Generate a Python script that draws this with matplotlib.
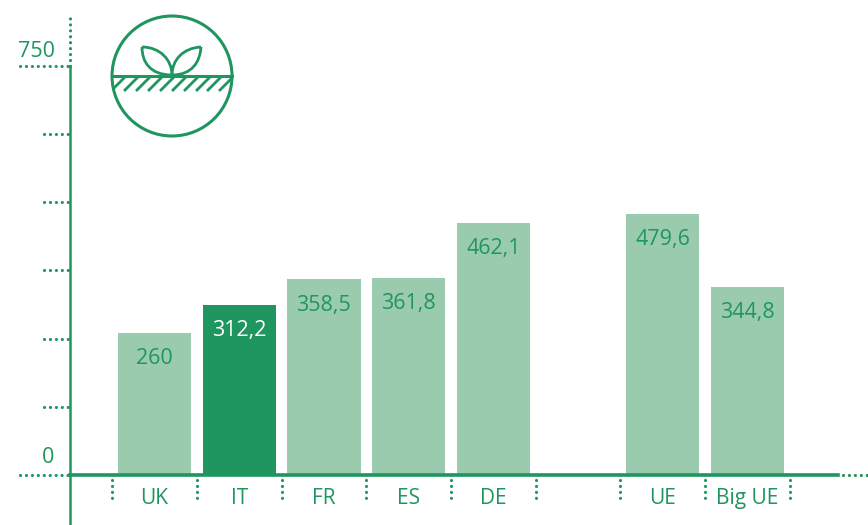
# Bar chart with a plant icon in the top left corner
import matplotlib
matplotlib.use("Agg")
import matplotlib.pyplot as plt
from matplotlib.patches import Circle, PathPatch
from matplotlib.path import Path

plt.rcParams["font.family"] = ["Open Sans", "DejaVu Sans"]

labels = ["UK", "IT", "FR", "ES", "DE", "UE", "Big UE"]
positions = [0, 1, 2, 3, 4, 6, 7]
values = [260, 312.2, 358.5, 361.8, 462.1, 479.6, 344.8]
value_labels = ["260", "312,2", "358,5", "361,8", "462,1", "479,6", "344,8"]
y_ticks = [0, 125, 250, 375, 500, 625, 750]
x_ticks = [-0.5, 0.5, 1.5, 2.5, 3.5, 4.5, 5.5, 6.5, 7.5]

green = "#1f9660"
light = "#9bcbae"
dots = (0, (0.01, 1.85))


def dotted(target, xs, ys):
    target.plot(xs, ys, color=green, lw=2.3, ls=dots, zorder=4,
                dash_capstyle="round")


fig = plt.figure(figsize=(8.68, 5.25), dpi=100)
ax = fig.add_axes([0, 0, 1, 1])
ax.set_xlim(-1.824, 8.423)
ax.set_ylim(-92.8, 872.2)
ax.axis("off")

# Bars
colors = [green if l == "IT" else light for l in labels]
ax.bar(positions, values, width=0.865, color=colors, zorder=2)
for x, v, t, c in zip(positions, values, value_labels, colors):
    ax.text(x, v - 47, t, ha="center", va="center", fontsize=15.5,
            color="white" if c == green else green, zorder=3)

# Axes lines
ax.plot([-0.999, -0.999], [-92.8, 750], color=green, lw=1.8, zorder=4)
dotted(ax, [-0.999, -0.999], [750, 843])
ax.plot([-0.999, 8.07], [0, 0], color=green, lw=2.6, zorder=4)
dotted(ax, [8.13, 8.423], [0, 0])

# Y ticks
for t in y_ticks:
    start = -1.59 if t in (0, 750) else -1.31
    dotted(ax, [start, -0.999], [t, t])
ax.text(-1.39, 778, "750", ha="center", va="center", fontsize=15.5, color=green)
ax.text(-1.255, 31, "0", ha="center", va="center", fontsize=15.5, color=green)

# X ticks and labels
for x in x_ticks:
    dotted(ax, [x, x], [-10, -46])
for x, l in zip(positions, labels):
    ax.text(x, -45, l, ha="center", va="center", fontsize=15, color=green,
            fontweight="medium")

# Icon, in pixel coordinates
icon = fig.add_axes([0, 0, 1, 1])
icon.set_xlim(0, 868)
icon.set_ylim(525, 0)
icon.axis("off")
ring = Circle((172, 76), 60, fill=False, ec=green, lw=2.2)
icon.add_patch(ring)
icon.plot([112, 232], [76, 76], color=green, lw=2.2)
for x in [125, 138, 150, 162, 174, 186, 198, 210, 221, 233]:
    line, = icon.plot([x - 13, x], [90, 77], color=green, lw=2)
    line.set_clip_path(ring)
codes = [Path.MOVETO, Path.CURVE4, Path.CURVE4, Path.CURVE4,
         Path.CURVE4, Path.CURVE4, Path.CURVE4]
left = Path([(142, 47), (160, 47), (172, 60), (172, 75),
             (150, 75), (142, 62), (142, 47)], codes)
right = Path([(201, 47), (183, 48), (172, 60), (172, 75),
              (192, 75), (200, 62), (201, 47)], codes)
icon.add_patch(PathPatch(left, fill=False, ec=green, lw=2))
icon.add_patch(PathPatch(right, fill=False, ec=green, lw=2))

fig.savefig("out.png", dpi=100)
